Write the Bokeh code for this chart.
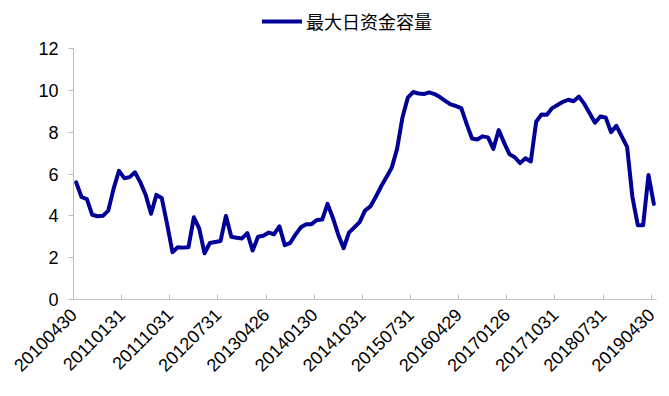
import math
from bokeh.plotting import figure
from bokeh.models import ColumnDataSource, FixedTicker, Legend, LegendItem, Range1d
from bokeh.embed import file_html
from bokeh.resources import INLINE

series_name = "最大日资金容量"

tick_labels = ["20100430", "20110131", "20111031", "20120731", "20130426",
               "20140130", "20141031", "20150731", "20160429", "20170126",
               "20171031", "20180731", "20190430"]

values = [
    5.6, 4.9, 4.8, 4.05, 3.98, 4.0, 4.25, 5.3, 6.15, 5.8,
    5.85, 6.08, 5.6, 5.0, 4.1, 5.0, 4.85, 3.6, 2.26, 2.5,
    2.48, 2.5, 3.93, 3.4, 2.21, 2.7, 2.75, 2.8, 4.0, 3.0,
    2.95, 2.92, 3.17, 2.34, 3.0, 3.05, 3.2, 3.12, 3.5, 2.6,
    2.7, 3.1, 3.45, 3.6, 3.6, 3.8, 3.82, 4.57, 3.9, 3.1,
    2.45, 3.2, 3.45, 3.7, 4.25, 4.45, 4.9, 5.4, 5.85, 6.3,
    7.2, 8.7, 9.65, 9.92, 9.85, 9.82, 9.9, 9.82, 9.68, 9.5,
    9.33, 9.25, 9.15, 8.4, 7.7, 7.65, 7.8, 7.75, 7.2, 8.1,
    7.5, 6.95, 6.8, 6.52, 6.75, 6.6, 8.5, 8.85, 8.83, 9.15,
    9.3, 9.45, 9.55, 9.48, 9.7, 9.35, 8.9, 8.45, 8.75, 8.7,
    8.0, 8.3, 7.8, 7.3, 4.9, 3.55, 3.55, 5.95, 4.57,
]

tick_every = 9
y_ticks = [0, 2, 4, 6, 8, 10, 12]
y_max = 12

# frame spans from the legend row down to 0; the y axis itself stops at 12
frame_top, frame_bottom, axis_top = 8, 299, 48
y_end = y_max * (frame_bottom - frame_top) / (frame_bottom - axis_top)

n = len(values)
xs = [i + 0.5 for i in range(n)]
src = ColumnDataSource(data=dict(x=xs, y=values))

p = figure(width=661, height=388, output_backend="svg", toolbar_location=None,
           x_range=Range1d(0, n), y_range=Range1d(0, y_end),
           min_border_left=73, min_border_right=5, min_border_top=frame_top,
           min_border_bottom=388 - frame_bottom)
p.outline_line_color = None
p.grid.visible = False

r = p.line("x", "y", source=src, line_color="#000099", line_width=4,
           line_join="round", line_cap="round")

xt = list(range(0, n, tick_every))
p.xaxis.ticker = FixedTicker(ticks=xt)
p.xaxis.major_label_overrides = {t: lab for t, lab in zip(xt, tick_labels)}
p.xaxis.major_label_orientation = math.pi / 4
p.xaxis.major_label_standoff = 12
p.xaxis.major_tick_in = 5
p.xaxis.major_tick_out = 0
p.xaxis.minor_tick_line_color = None

p.yaxis.ticker = FixedTicker(ticks=y_ticks)
p.yaxis.bounds = (0, y_max)
p.yaxis.major_tick_in = 0
p.yaxis.major_tick_out = 5
p.yaxis.minor_tick_line_color = None
p.yaxis.major_label_standoff = 10

for ax in (p.xaxis, p.yaxis):
    ax.axis_line_color = "#bfbfbf"
    ax.major_tick_line_color = "#bfbfbf"
    ax.major_label_text_font = "Liberation Sans"
    ax.major_label_text_font_size = "18px"
    ax.major_label_text_color = "#000000"

legend = Legend(items=[LegendItem(label=series_name, renderers=[r])],
                location=(189, 265), orientation="horizontal",
                border_line_alpha=0, background_fill_alpha=0,
                label_text_font="Noto Sans CJK SC", label_text_font_size="18px",
                label_text_color="#000000",
                glyph_width=40, glyph_height=20, padding=0, margin=0,
                label_standoff=4)
p.add_layout(legend, "center")

open("out.html", "w").write(file_html(p, INLINE))
